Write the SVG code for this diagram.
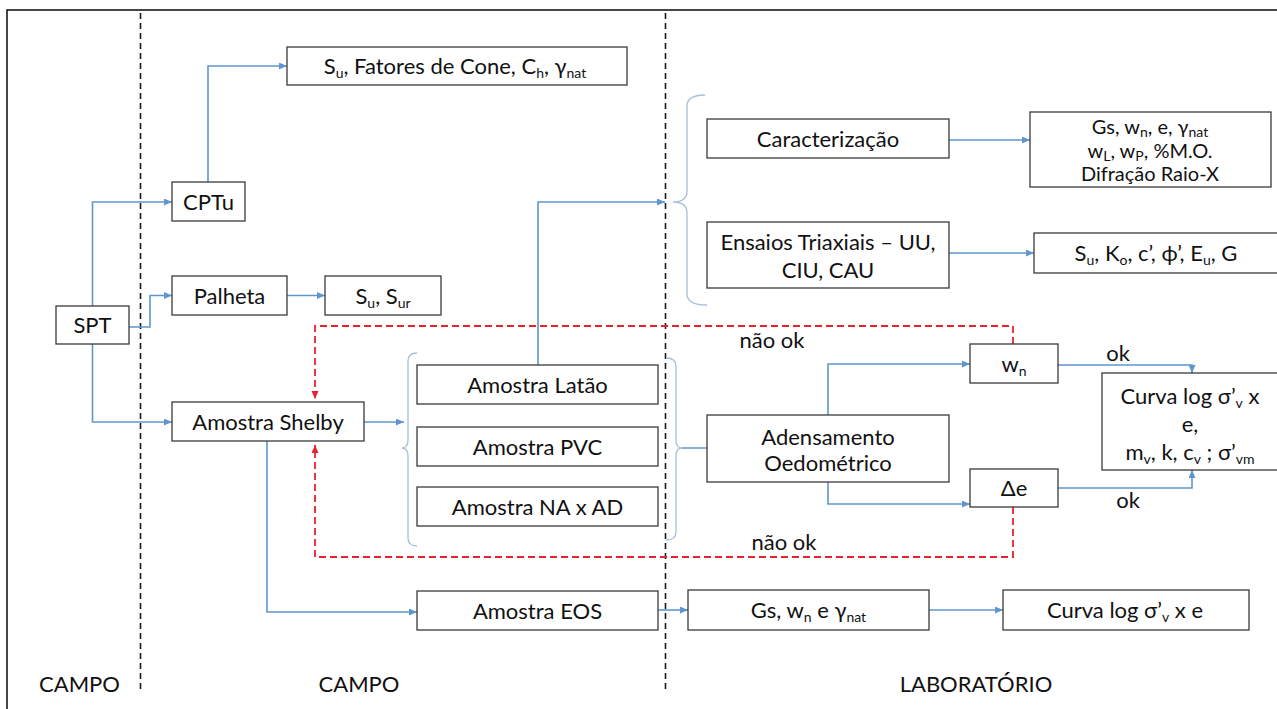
<svg xmlns="http://www.w3.org/2000/svg" width="1277" height="709" viewBox="0 0 1277 709">
<defs>
<marker id="ab" markerUnits="userSpaceOnUse" markerWidth="9" markerHeight="8" refX="8" refY="3.5" orient="auto"><path d="M0,0 L8,3.5 L0,7 z" fill="#5f96cf"/></marker>
<marker id="ar" markerUnits="userSpaceOnUse" markerWidth="9" markerHeight="8" refX="8" refY="3.5" orient="auto"><path d="M0,0 L8,3.5 L0,7 z" fill="#e8222d"/></marker>
<style>
.b{fill:#fff;stroke:#3a3a3a;stroke-width:1.3}
.t{font-family:Lato,"Open Sans","Liberation Sans",sans-serif;font-size:22px;fill:#111;text-anchor:middle}
.m{font-size:20px}
.s{font-size:14px}
.c{fill:none;stroke:#5f96cf;stroke-width:1.6;marker-end:url(#ab)}
.r{fill:none;stroke:#e8222d;stroke-width:1.8;stroke-dasharray:7,4;marker-end:url(#ar)}
.k{fill:none;stroke:#1a1a1a;stroke-width:1.6;stroke-dasharray:6,4}
.br{fill:none;stroke:#a9bfd9;stroke-width:1.3}
</style>
</defs>
<rect x="0" y="0" width="1277" height="709" fill="#fff"/>
<rect x="7" y="10" width="1290" height="720" fill="none" stroke="#1a1a1a" stroke-width="1.6"/>
<g id="separators">
<line class="k" x1="140.5" y1="13" x2="140.5" y2="693"/>
<line class="k" x1="665.5" y1="13" x2="665.5" y2="693"/>
</g>
<g id="brackets">
<path class="br" d="M417,353 Q408,353 408,361 V440 Q408,448 402,448 Q408,448 408,456 V538 Q408,546 417,546"/>
<path class="br" d="M666,358 Q676,358 676,366 V440 Q676,448 682,448 Q676,448 676,456 V532 Q676,540 666,540"/>
<path class="br" d="M705,95 Q687,95 687,106 V191 Q687,202 673,202 Q687,202 687,213 V294 Q687,305 707,305"/>
</g>
<g id="connectors">
<path class="c" d="M92.5,306 V202 H172"/>
<path class="c" d="M208,182 V66 H287"/>
<path class="c" d="M129,327 H150 V295.5 H172"/>
<path class="c" d="M287,295.5 H325"/>
<path class="c" d="M92.5,344 V422 H172"/>
<path class="c" d="M364,422 H404"/>
<path class="c" d="M538,365 V202 H665"/>
<path class="c" d="M949,140 H1030"/>
<path class="c" d="M949,253 H1034"/>
<path class="c" d="M682,448 H722"/>
<path class="c" d="M828,415 V364 H970"/>
<path class="c" d="M828,482 V504 H970"/>
<path class="c" d="M1058,365 H1192 V373"/>
<path class="c" d="M1058,488 H1192 V470"/>
<path class="c" d="M658,610 H688"/>
<path class="c" d="M929,610 H1003"/>
<path class="c" d="M267,441 V612 H417"/>
<path class="r" d="M1013,344 V326 H315 V399"/>
<path class="r" d="M1013,507 V557 H315 V445"/>
<text class="t" x="772" y="348">não ok</text>
<text class="t" x="784" y="550">não ok</text>
<text class="t" x="1118" y="361">ok</text>
<text class="t" x="1128" y="508">ok</text>
</g>
<g id="n-spt"><rect class="b" x="56" y="306" width="73" height="38"/><text class="t" x="92.5" y="333">SPT</text></g>
<g id="n-cptu"><rect class="b" x="172" y="182" width="73" height="39"/><text class="t" x="208.5" y="209.5">CPTu</text></g>
<g id="n-sucone"><rect class="b" x="287" y="47" width="340" height="38"/><text class="t" x="455" y="74">S<tspan class="s" dy="4">u</tspan><tspan dy="-4">, Fatores de Cone, C</tspan><tspan class="s" dy="4">h</tspan><tspan dy="-4">, γ</tspan><tspan class="s" dy="4">nat</tspan></text></g>
<g id="n-palheta"><rect class="b" x="172" y="276" width="115" height="39"/><text class="t" x="229.5" y="303.5">Palheta</text></g>
<g id="n-susur"><rect class="b" x="325" y="276" width="116" height="39"/><text class="t" x="383" y="303.5">S<tspan class="s" dy="4">u</tspan><tspan dy="-4">, S</tspan><tspan class="s" dy="4">ur</tspan></text></g>
<g id="n-shelby"><rect class="b" x="172" y="402" width="192" height="39"/><text class="t" x="268" y="429.5">Amostra Shelby</text></g>
<g id="n-latao"><rect class="b" x="417" y="365" width="241" height="39"/><text class="t" x="537.5" y="392.5">Amostra Latão</text></g>
<g id="n-pvc"><rect class="b" x="417" y="427" width="241" height="39"/><text class="t" x="537.5" y="454.5">Amostra PVC</text></g>
<g id="n-naad"><rect class="b" x="417" y="487" width="241" height="39"/><text class="t" x="537.5" y="514.5">Amostra NA x AD</text></g>
<g id="n-eos"><rect class="b" x="417" y="591" width="241" height="39"/><text class="t" x="537.5" y="618.5">Amostra EOS</text></g>
<g id="n-gswn"><rect class="b" x="688" y="590" width="241" height="40"/><text class="t" x="808.5" y="618">Gs, w<tspan class="s" dy="4">n</tspan><tspan dy="-4"> e γ</tspan><tspan class="s" dy="4">nat</tspan></text></g>
<g id="n-curvab"><rect class="b" x="1003" y="590" width="246" height="40"/><text class="t" x="1125" y="618">Curva log σ’<tspan class="s" dy="4">v</tspan><tspan dy="-4"> x e</tspan></text></g>
<g id="n-carac"><rect class="b" x="707" y="119" width="242" height="39"/><text class="t" x="828" y="146.5">Caracterização</text></g>
<g id="n-gsbig"><rect class="b" x="1030" y="112" width="241" height="75"/>
<text class="t m" x="1150" y="134">Gs, w<tspan class="s" dy="3">n</tspan><tspan dy="-3">, e, γ</tspan><tspan class="s" dy="3">nat</tspan></text>
<text class="t m" x="1150" y="157.5">w<tspan class="s" dy="3">L</tspan><tspan dy="-3">, w</tspan><tspan class="s" dy="3">P</tspan><tspan dy="-3">, %M.O.</tspan></text>
<text class="t m" x="1150" y="181">Difração Raio-X</text></g>
<g id="n-ensaios"><rect class="b" x="707" y="222" width="242" height="66"/>
<text class="t" x="828" y="250">Ensaios Triaxiais – UU,</text>
<text class="t" x="828" y="278">CIU, CAU</text></g>
<g id="n-suko"><rect class="b" x="1034" y="233" width="250" height="40"/><text class="t" x="1156" y="261">S<tspan class="s" dy="4">u</tspan><tspan dy="-4">, K</tspan><tspan class="s" dy="4">o</tspan><tspan dy="-4">, c’, ϕ’, E</tspan><tspan class="s" dy="4">u</tspan><tspan dy="-4">, G</tspan></text></g>
<g id="n-adens"><rect class="b" x="707" y="415" width="242" height="67"/>
<text class="t" x="828" y="445">Adensamento</text>
<text class="t" x="828" y="471">Oedométrico</text></g>
<g id="n-wn"><rect class="b" x="970" y="344" width="88" height="39"/><text class="t" x="1014" y="371.5">w<tspan class="s" dy="4">n</tspan></text></g>
<g id="n-de"><rect class="b" x="970" y="469" width="88" height="38"/><text class="t" x="1014" y="496">Δe</text></g>
<g id="n-curvar"><rect class="b" x="1102" y="373" width="180" height="97"/>
<text class="t" x="1190" y="404">Curva log σ’<tspan class="s" dy="4">v</tspan><tspan dy="-4"> x</tspan></text>
<text class="t" x="1190" y="432">e,</text>
<text class="t" x="1190" y="460">m<tspan class="s" dy="4">v</tspan><tspan dy="-4">, k, c</tspan><tspan class="s" dy="4">v</tspan><tspan dy="-4"> ; σ’</tspan><tspan class="s" dy="4">vm</tspan></text></g>
<g id="labels">
<text class="t" x="79.5" y="692">CAMPO</text>
<text class="t" x="359" y="692">CAMPO</text>
<text class="t" x="976" y="692">LABORATÓRIO</text>
</g>
</svg>
